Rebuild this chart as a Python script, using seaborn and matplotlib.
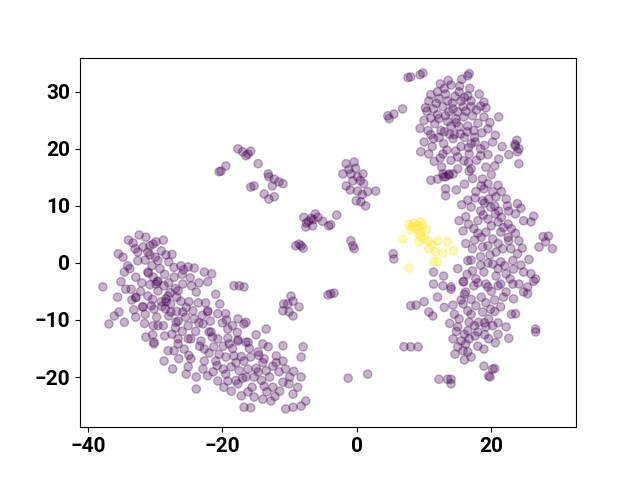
import pandas as pd
import matplotlib
matplotlib.use("Agg")
import matplotlib.pyplot as plt
import seaborn as sns

# t-SNE embedding, grouped by cluster (x, y)
left_cluster = [
    (-32.4, 4.9), (-31.4, 4.5), (-33.3, 3.5), (-31.8, 2.8), (-30.3, 3.3), (-29.9, 3.7),
    (-29.1, 2.1), (-35.5, 1.6), (-34.8, 1.0), (-32.6, 1.9), (-31.1, 1.9), (-28.0, 0.2),
    (-26.2, -0.5), (-25.1, -0.7), (-24.2, -0.9), (-22.7, -1.6), (-21.6, -1.9), (-22.2, -3.3),
    (-34.1, -0.5), (-34.6, -1.6), (-32.9, -2.5), (-31.1, -1.6), (-29.6, -3.2), (-29.9, -3.7),
    (-28.7, -4.0), (-27.2, -2.5), (-25.9, -3.7), (-35.1, -3.3), (-37.8, -4.2), (-33.6, -4.6),
    (-32.9, -6.0), (-31.1, -5.8), (-29.6, -4.9), (-28.1, -5.8), (-26.6, -4.9), (-23.9, -5.1),
    (-31.8, -7.7), (-30.6, -7.5), (-29.1, -6.8), (-27.7, -7.2), (-26.2, -6.7), (-25.0, -6.8),
    (-36.1, -9.3), (-35.4, -8.6), (-36.9, -10.7), (-32.9, -9.5), (-30.3, -11.0), (-28.8, -11.0),
    (-28.0, -9.3), (-26.6, -10.2), (-25.1, -11.0), (-24.2, -9.8), (-24.4, -8.4), (-22.2, -8.4),
    (-31.4, -13.0), (-30.2, -14.2), (-26.6, -13.3), (-25.1, -13.3), (-23.2, -13.7),
    (-31.5, 0.5), (-30.5, -0.5), (-30.0, 1.0), (-31.0, -1.8), (-30.3, -2.5), (-29.3, -1.0),
    (-28.6, -2.0), (-32.0, -3.5), (-30.8, -3.8), (-28.0, -3.5), (-27.0, -4.5), (-26.0, -2.0),
    (-33.5, -6.5), (-31.5, -9.0), (-29.8, -9.5), (-28.5, -8.0), (-26.8, -8.5), (-25.5, -9.5),
    (-23.5, -10.5), (-22.5, -7.0), (-33.0, 2.5), (-34.0, 4.0), (-30.8, 3.0), (-28.8, 4.0),
    (-27.5, 1.5), (-26.8, -6.0), (-24.6, -4.0), (-23.5, -3.5), (-29.7, -3.3), (-28.4, -6.3),
    (-31.9, -7.7), (-32.9, -6.1), (-30.2, -8.1), (-27.7, -8.6), (-25.9, -8.6), (-29.6, -11.0),
    (-26.9, -10.4), (-30.2, -13.9), (-28.1, -15.4), (-27.2, -15.4), (-25.7, -15.1),
    (-24.7, -13.3), (-28.4, -6.8),
    (-33.8, -1.0), (-32.6, 0.4), (-30.8, 1.4), (-29.6, 0.4), (-28.4, 1.4), (-27.2, -0.8),
    (-25.8, -1.2), (-24.8, -2.6), (-27.8, -5.2), (-29.0, -7.6), (-30.4, -6.4), (-32.2, -5.0),
    (-34.4, -4.6), (-35.6, -6.0), (-33.2, -8.2), (-34.6, -10.4), (-31.6, -10.6), (-30.4, -12.6),
    (-28.6, -12.8), (-27.0, -11.4), (-25.4, -7.8), (-23.6, -7.0), (-21.0, -5.5), (-20.4, -7.2),
    (-23.0, -9.2), (-21.8, -10.2),
]
left_band = [
    (-18.3, -4.0), (-17.5, -4.0), (-16.8, -4.2),
    (-20.7, -8.9), (-19.5, -8.9), (-17.7, -9.8), (-16.8, -10.7), (-19.2, -11.6), (-22.0, -12.1),
    (-20.7, -13.3), (-17.7, -13.5), (-16.5, -13.9), (-22.2, -8.6), (-16.5, -10.4), (-22.9, -10.7),
    (-21.7, -12.1), (-13.5, -11.6), (-22.7, -15.1), (-21.3, -14.7), (-19.9, -14.6), (-19.0, -14.2),
    (-17.7, -13.7), (-16.2, -13.9), (-14.7, -15.6), (-13.2, -14.7), (-12.0, -16.3),
    (-28.7, -17.2), (-26.5, -16.8), (-24.7, -16.8), (-22.7, -17.2), (-21.0, -17.2), (-19.5, -16.5),
    (-18.3, -16.3), (-16.8, -17.2), (-15.8, -16.5), (-13.8, -16.8), (-12.5, -18.1),
    (-27.4, -18.6), (-25.1, -18.2), (-22.9, -18.6), (-21.4, -19.1), (-19.9, -18.6), (-18.7, -18.2),
    (-17.5, -18.9), (-16.2, -18.6), (-14.7, -19.1), (-13.5, -18.9), (-11.6, -19.1), (-10.6, -18.6),
    (-25.4, -19.5), (-23.9, -20.0), (-20.7, -20.7), (-19.2, -20.7), (-17.7, -21.2), (-16.5, -20.0),
    (-15.3, -20.0), (-13.8, -21.6), (-12.5, -21.8), (-11.0, -20.9), (-10.1, -21.2), (-8.8, -21.8),
    (-8.3, -20.0), (-23.9, -22.1), (-18.7, -22.5), (-17.2, -23.3), (-15.3, -23.5), (-14.0, -23.9),
    (-12.8, -24.2), (-16.8, -25.3), (-15.8, -25.4), (-10.6, -25.6), (-9.5, -25.3), (-8.3, -25.1),
    (-7.6, -24.2), (-8.0, -14.7), (-8.3, -16.5),
    (-18.0, -17.5), (-19.5, -19.5), (-17.0, -20.2), (-15.0, -18.5), (-14.0, -17.5), (-13.0, -20.0),
    (-16.0, -15.0), (-18.5, -15.0), (-20.5, -16.0), (-22.0, -15.8), (-21.5, -13.0), (-24.0, -12.0),
    (-26.0, -12.0), (-27.5, -12.5), (-11.5, -22.5), (-10.0, -20.0), (-9.5, -23.0), (-12.0, -17.5),
    (-11.0, -14.5), (-20.0, -10.5), (-18.5, -11.0),
    (-19.4, -10.0), (-17.8, -12.2), (-15.0, -12.6), (-14.0, -14.2), (-19.2, -13.2), (-23.4, -14.6),
    (-25.0, -16.2), (-26.6, -14.2), (-22.2, -19.8), (-20.8, -18.0), (-17.2, -16.4), (-14.6, -16.2),
    (-15.6, -21.8), (-13.4, -22.6), (-11.0, -17.2), (-9.4, -19.0), (-19.8, -21.8), (-18.0, -20.6),
    (-16.2, -22.6), (-14.2, -20.6), (-12.2, -23.4),
]
middle_groups = [
    (-17.7, 20.0), (-17.0, 19.5), (-16.2, 19.1), (-15.8, 19.6), (-16.5, 18.8),
    (-20.5, 16.0), (-20.2, 16.1), (-19.5, 17.0), (-14.7, 17.4),
    (-13.2, 15.6), (-13.1, 15.1), (-12.3, 14.7), (-11.6, 14.2), (-11.0, 13.9),
    (-15.8, 13.3), (-15.3, 13.5), (-12.6, 13.5), (-13.8, 12.1), (-13.1, 11.2), (-12.3, 11.6),
    (-7.9, 8.0), (-7.2, 7.3), (-6.5, 7.6), (-5.8, 8.0), (-7.6, 6.3), (-6.6, 6.5), (-5.1, 7.3),
    (-6.2, 8.6), (-4.2, 6.5), (-8.6, 3.3), (-8.3, 3.0), (-9.1, 3.0), (-8.0, 2.6),
    (-7.5, 7.0), (-6.8, 7.8),
    (-1.6, 17.4), (-0.4, 17.7), (-2.1, 15.6), (-0.9, 15.6), (0.1, 15.1), (0.9, 15.6),
    (-1.6, 13.5), (-0.6, 14.4), (1.0, 13.9), (0.1, 12.6), (1.6, 12.5), (2.8, 12.6),
    (-0.1, 10.9), (0.6, 10.7), (1.3, 10.0), (-3.0, 8.4), (-3.9, 6.7),
    (-1.2, 16.4), (-0.2, 16.6), (0.5, 14.4), (-1.0, 12.8), (0.8, 12.0),
    (-0.9, 3.9), (-0.6, 3.0), (-0.4, 2.5), (5.4, 1.6), (5.5, 0.7),
    (-4.3, -5.6), (-3.9, -5.4), (-3.4, -5.3),
    (-9.8, -5.8), (-10.9, -7.2), (-9.5, -6.7), (-8.6, -7.7), (-11.0, -8.4), (-10.1, -8.6),
    (-9.5, -9.3), (-10.3, -7.2), (-1.3, -20.2), (1.6, -19.5),
    (7.0, -14.7), (8.0, -14.7), (9.1, -14.7), (8.0, -7.5), (8.8, -7.4),
]
top_right = [
    (7.6, 32.5), (8.0, 32.6), (9.4, 33.0), (9.8, 33.3), (16.5, 32.8), (16.7, 33.2),
    (4.6, 25.8), (4.8, 25.3), (5.5, 26.1), (6.8, 27.0),
    (14.0, 31.2), (12.0, 30.0), (13.2, 29.6), (15.2, 30.0), (16.5, 29.3),
    (10.7, 28.4), (12.2, 28.8), (13.5, 28.4), (15.5, 28.4), (17.0, 28.4), (18.9, 28.2),
    (11.4, 27.0), (12.8, 27.4), (14.3, 27.0), (15.8, 27.4), (17.0, 27.4), (18.4, 27.5),
    (11.0, 25.4), (12.2, 25.3), (13.7, 26.5), (14.7, 25.3), (15.9, 25.6), (17.2, 25.8),
    (18.9, 25.6), (21.1, 25.6), (10.6, 23.2), (12.5, 23.2), (14.0, 24.0), (15.2, 23.9),
    (16.5, 24.0), (17.4, 23.2), (19.5, 23.5), (10.0, 21.2), (11.4, 21.8), (12.9, 20.9),
    (14.3, 21.8), (15.5, 20.4), (17.0, 20.9), (18.4, 20.0), (20.2, 21.2),
    (10.7, 19.1), (12.8, 19.1), (14.7, 19.6), (16.7, 19.1), (15.9, 17.9), (18.4, 18.8),
    (21.1, 18.2), (23.6, 20.5), (24.1, 20.0), (23.9, 19.5), (24.1, 17.4), (19.2, 16.8),
    (17.0, 16.5), (12.8, 15.6), (13.7, 15.6), (12.0, 14.7), (13.2, 15.1),
    (13.0, 23.0), (14.5, 22.5), (16.0, 22.0), (12.0, 26.0), (15.0, 26.5), (17.5, 22.0),
    (18.0, 24.5), (14.0, 18.0), (11.5, 17.8), (13.5, 24.8), (16.0, 29.0), (11.0, 29.5),
    (19.5, 19.0), (20.5, 17.0), (23.8, 21.5), (23.5, 20.8), (20.0, 15.5), (9.5, 19.5),
    (11.0, 22.5), (15.3, 31.0),
    (10.2, 27.2), (11.8, 28.0), (13.0, 30.6), (14.6, 29.2), (15.6, 32.2), (12.4, 31.4),
    (10.0, 25.0), (11.6, 24.4), (13.2, 25.8), (14.8, 24.6), (16.2, 26.6), (17.8, 26.8),
    (19.2, 27.2), (18.2, 29.6), (17.6, 21.2), (16.4, 23.0), (15.4, 22.6), (13.8, 22.6),
    (12.2, 22.0), (11.2, 20.4), (12.4, 18.4), (13.4, 19.8), (15.0, 18.6), (16.6, 20.2),
    (17.8, 18.0), (18.6, 22.8), (19.8, 24.6), (20.6, 22.4), (9.4, 23.6), (10.4, 26.6),
    (14.2, 28.0), (16.8, 30.6), (13.6, 32.0), (15.0, 16.5), (16.6, 17.6), (19.0, 20.6),
    (21.6, 20.4), (22.6, 19.0), (12.6, 16.8), (11.0, 14.5),
]
right_cluster = [
    (12.9, 15.1), (13.7, 15.4), (14.3, 15.6), (13.2, 13.0), (13.2, 11.8), (16.7, 16.1),
    (18.7, 14.7), (19.5, 13.9), (17.7, 12.5), (18.9, 13.0), (18.7, 10.9), (20.2, 12.5),
    (20.7, 11.6), (22.2, 11.2), (23.9, 10.4), (17.0, 9.8), (18.4, 9.1), (19.9, 9.8),
    (21.1, 9.1), (22.6, 9.1), (23.6, 8.6), (26.3, 8.2), (25.9, 7.2), (16.2, 8.1),
    (18.0, 7.4), (19.5, 7.7), (21.0, 7.2), (22.5, 6.8), (15.8, 5.6), (17.4, 6.0),
    (19.2, 5.4), (20.2, 4.2), (21.4, 5.4), (22.6, 3.9), (24.1, 3.9), (27.7, 4.6),
    (28.5, 4.7), (28.1, 3.7), (29.1, 2.5), (27.1, 2.8), (17.2, 2.5), (18.7, 2.8),
    (20.7, 1.9), (21.7, 2.5), (22.9, 2.5), (16.5, 0.4), (18.4, 1.1), (20.2, -0.2),
    (21.4, 0.2), (23.2, 0.4), (23.9, 1.6), (17.2, -1.4), (18.9, -1.6), (20.7, -2.3),
    (22.2, -1.9), (23.3, -1.1), (24.8, -1.6), (25.9, -1.9), (26.6, -2.8), (25.4, -4.2),
    (15.8, -3.3), (17.7, -2.8), (19.2, -3.7), (21.4, -3.7), (23.2, -3.7),
    (11.4, -1.6), (12.9, -2.3), (11.4, -3.7), (12.8, -4.0), (14.0, -4.2), (14.0, -4.6),
    (15.9, -3.3), (16.2, -5.1), (17.4, -4.0), (19.5, -4.2), (21.0, -4.0), (22.2, -5.1),
    (23.3, -6.3), (24.1, -3.7), (24.8, -5.1), (25.4, -5.4), (26.3, -3.2),
    (10.0, -6.8), (10.7, -8.6), (11.3, -9.3), (14.3, -7.4), (15.8, -7.2), (16.5, -8.4),
    (17.7, -7.5), (18.7, -8.6), (19.9, -8.1), (21.4, -7.7), (23.6, -8.9), (15.2, -9.8),
    (16.7, -10.4), (18.1, -10.4), (19.6, -9.8), (15.0, -11.2), (16.5, -11.9), (18.0, -12.1),
    (19.2, -11.2), (21.0, -12.5), (22.2, -11.2), (14.3, -13.3), (15.5, -13.7), (16.7, -13.3),
    (18.0, -14.6), (18.9, -15.1), (15.0, -14.7), (15.8, -15.4), (16.5, -15.6), (19.6, -13.3),
    (26.6, -11.6), (26.6, -12.1), (18.9, -18.1), (20.2, -18.6), (20.5, -18.5), (19.6, -19.8),
    (19.8, -20.0), (12.2, -20.4), (13.5, -20.4), (14.0, -20.4), (14.0, -21.2),
    (16.5, 11.0), (17.5, 4.0), (18.5, 4.5), (19.5, 3.0), (20.0, 6.5), (21.5, 8.0),
    (19.0, 10.5), (20.5, 10.0), (21.5, 12.5), (17.0, 0.5), (19.5, 0.0), (22.0, -0.5),
    (16.0, -5.5), (18.5, -6.0), (20.5, -6.5), (17.0, -9.0), (19.0, -10.5), (20.5, -8.5),
    (16.0, -12.5), (17.5, -11.0), (14.5, -9.0), (15.5, -6.5), (18.0, -3.5), (20.0, -5.0),
    (22.5, 4.5), (23.0, 6.0), (18.5, 13.5), (21.0, -10.5), (17.0, -16.5), (16.0, -17.0),
    (14.8, 12.8), (16.0, 13.8), (17.2, 14.8), (15.6, 10.2), (17.6, 11.4), (19.6, 11.2),
    (21.0, 13.6), (22.4, 10.0), (24.4, 9.6), (24.8, 7.4), (23.6, 5.2), (21.8, 6.2),
    (20.6, 8.6), (18.8, 8.4), (16.6, 6.8), (15.2, 7.4), (16.2, 3.4), (18.0, 5.2),
    (19.8, 1.4), (21.0, 3.4), (24.6, 2.6), (25.6, 0.6), (24.4, -0.4), (22.8, -2.8),
    (21.0, -1.0), (18.4, -0.4), (16.4, -2.0), (15.0, -1.0), (17.0, -6.4), (19.2, -7.0),
    (21.8, -6.0), (23.0, -9.0), (20.2, -11.0), (17.6, -12.8), (14.8, -12.0), (16.2, -14.2),
    (19.0, -12.6), (13.8, -10.6), (14.6, -16.0), (20.6, -14.0), (22.6, -13.2), (12.0, -6.0),
    (13.0, -7.8),
]
yellow_cluster = [
    (7.7, 6.8), (8.5, 7.0), (9.5, 7.2), (9.8, 6.7), (8.0, 5.8), (8.8, 6.0), (10.3, 5.8),
    (9.2, 5.1), (9.5, 4.6), (6.8, 4.2), (9.2, 3.7), (10.6, 3.9), (12.0, 3.9), (13.5, 3.7),
    (10.7, 2.5), (11.7, 1.9), (12.8, 1.8), (14.4, 2.1), (11.4, 0.2), (12.0, 0.2), (7.7, -0.9),
    (8.2, 6.4), (9.0, 6.6), (9.6, 5.4), (10.0, 4.2), (11.2, 3.2),
]

purple = left_cluster + left_band + middle_groups + top_right + right_cluster
df = pd.DataFrame(purple + yellow_cluster, columns=["x", "y"])
df["label"] = [0] * len(purple) + [1] * len(yellow_cluster)

fig, ax = plt.subplots(figsize=(6.4, 4.8), dpi=100)
sns.scatterplot(data=df, x="x", y="y", hue="label",
                palette={0: "#440154", 1: "#fde725"},
                alpha=0.3, s=36, linewidth=1, edgecolor="face",
                legend=False, ax=ax)
ax.set_xlim(-41.2, 32.6)
ax.set_ylim(-28.8, 36.0)
ax.set_xlabel("")
ax.set_ylabel("")
ax.set_xticks([-40, -20, 0, 20])
ax.set_yticks([-20, -10, 0, 10, 20, 30])
for lab in ax.get_xticklabels() + ax.get_yticklabels():
    lab.set_fontfamily("Roboto")
    lab.set_fontweight("bold")
    lab.set_fontsize(15)

fig.savefig("out.png", dpi=100)
